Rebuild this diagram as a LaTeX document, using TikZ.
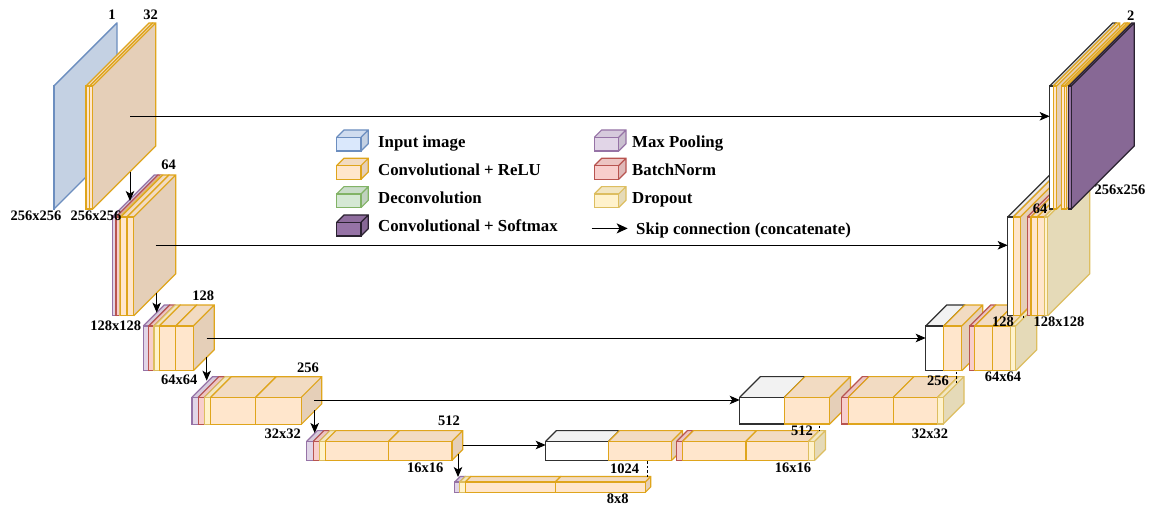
\documentclass[tikz,border=0pt]{standalone}
\usepackage{fontspec}
\setmainfont{Liberation Serif}
\usetikzlibrary{arrows.meta}
\definecolor{inF}{HTML}{DAE8FC}\definecolor{inS}{HTML}{6C8EBF}
\definecolor{cvF}{HTML}{FFE6CC}\definecolor{cvS}{HTML}{DFA51C}
\definecolor{mpF}{HTML}{E1D5E7}\definecolor{mpS}{HTML}{9673A6}
\definecolor{bnF}{HTML}{F8CECC}\definecolor{bnS}{HTML}{B85450}
\definecolor{drF}{HTML}{FFF2CC}\definecolor{drS}{HTML}{DDBE60}
\definecolor{dcF}{HTML}{D5E8D4}\definecolor{dcS}{HTML}{82B366}
\definecolor{smF}{HTML}{9673A6}\definecolor{smS}{HTML}{2A2230}
\definecolor{whF}{HTML}{FFFFFF}\definecolor{whS}{HTML}{303030}
% \layer{name}{x1}{x2}{ytop}{ybottom}{depth}{colour prefix}
\newcommand{\layer}[7]{%
  \pgfmathsetmacro{\lw}{#3-#2}\pgfmathsetmacro{\lh}{#5-#4}%
  \fill[#7F!95!black] (#2,#4) -- ++(#6,-#6) -- ++(\lw,0) -- ++(-#6,#6) -- cycle;
  \fill[#7F!90!black] (#3,#4) -- ++(#6,-#6) -- ++(0,\lh) -- ++(-#6,#6) -- cycle;
  \node[draw=#7S,fill=#7F,facelook,minimum width=\lw pt,minimum height=\lh pt,anchor=north west] (#1) at (#2,#4) {};
  \draw[#7S,edgelook] (#2,#4) -- ++(#6,-#6) -- ++(\lw,0) -- ++(0,\lh) -- ++(-#6,#6) (#3,#4) -- ++(#6,-#6);
}
\tikzset{
  facelook/.style={inner sep=0pt,outer sep=0pt,line width=1.2pt,rectangle},
  edgelook/.style={line width=1.2pt,line join=miter},
  arrowline/.style={-{Stealth[length=10pt,width=8.5pt,inset=2.5pt]},line width=1pt,black},
  legendarrow/.style={-{Stealth[length=11pt,width=10pt,inset=2.8pt]},line width=1.6pt,black},
  dashline/.style={dashed,dash pattern=on 2.5pt off 2pt,line width=1pt,black},
  dimlabel/.style={font=\fontsize{14.5}{16}\selectfont\bfseries,inner sep=0pt,text=black},
  legendlabel/.style={font=\fontsize{16.8}{18}\selectfont\bfseries,inner sep=0pt,text=black,anchor=base west},
}
\begin{document}
\begin{tikzpicture}[x=1pt,y=-1pt]
\useasboundingbox (0,0) rectangle (1154,508);
\fill[white] (0,0) rectangle (1154,508);
% --- encoder
\layer{inp}{53.7}{54}{86}{209}{63}{in}
\layer{e1a}{86}{89.7}{86}{209}{63}{cv}
\layer{e1b}{89.7}{92.7}{86}{209}{63}{cv}

\layer{e2m}{112.3}{116}{217}{315.7}{42}{mp}
\layer{e2n}{116}{119.3}{217}{315.7}{42}{bn}
\layer{e2d}{119.3}{120.7}{217}{315.7}{42}{dr}
\layer{e2a}{120.7}{127}{217}{315.7}{42}{cv}
\layer{e2b}{127}{133.7}{217}{315.7}{42}{cv}

\layer{e3m}{143.3}{148.7}{326}{370.7}{21}{mp}
\layer{e3n}{148.7}{154}{326}{370.7}{21}{bn}
\layer{e3d}{154}{159.3}{326}{370.7}{21}{dr}
\layer{e3a}{159.3}{175.7}{326}{370.7}{21}{cv}
\layer{e3b}{175.7}{193.3}{326}{370.7}{21}{cv}

\layer{e4m}{192}{198.3}{397.3}{424.3}{20.5}{mp}
\layer{e4n}{198.3}{204.3}{397.3}{424.3}{20.5}{bn}
\layer{e4d}{204.3}{210.7}{397.3}{424.3}{20.5}{dr}
\layer{e4a}{210.7}{255.7}{397.3}{424.3}{20.5}{cv}
\layer{e4b}{255.7}{301.3}{397.3}{424.3}{20.5}{cv}

\layer{e5m}{306.7}{313.3}{441.3}{460.3}{10.7}{mp}
\layer{e5n}{313.3}{319.3}{441.3}{460.3}{10.7}{bn}
\layer{e5d}{319.3}{325.3}{441.3}{460.3}{10.7}{dr}
\layer{e5a}{325.3}{388.7}{441.3}{460.3}{10.7}{cv}
\layer{e5b}{388.7}{452}{441.3}{460.3}{10.7}{cv}

\layer{b1m}{454.7}{459.7}{482}{492.3}{5.5}{mp}
\layer{b1d}{459.7}{465.3}{482}{492.3}{5.5}{dr}
\layer{b1a}{465.3}{555.3}{482}{492.3}{5.5}{cv}
\layer{b1b}{555.3}{645.3}{482}{492.3}{5.5}{cv}

% --- decoder
\layer{d5w}{545.7}{608.7}{441.3}{460.3}{10.7}{wh}
\layer{d5a}{608.7}{671.7}{441.3}{460.3}{10.7}{cv}
\layer{d5n}{676.7}{682.7}{441.3}{460.3}{10.7}{bn}
\layer{d5b}{682.7}{746}{441.3}{460.3}{10.7}{cv}
\layer{d5c}{746}{808.7}{441.3}{460.3}{10.7}{cv}
\layer{d5d}{808.7}{814.7}{441.3}{460.3}{10.7}{dr}

\layer{d4w}{739.7}{784.3}{397.3}{424}{20.7}{wh}
\layer{d4a}{784.3}{829.7}{397.3}{424}{20.7}{cv}
\layer{d4n}{841.7}{848.3}{397.3}{424}{20.7}{bn}
\layer{d4b}{848.3}{893.3}{397.3}{424}{20.7}{cv}
\layer{d4c}{893.3}{937.7}{397.3}{424}{20.7}{cv}
\layer{d4d}{937.7}{943.3}{397.3}{424}{20.7}{dr}

\layer{d3w}{925.7}{943.7}{326}{370.7}{21}{wh}
\layer{d3a}{943.7}{961.7}{326}{370.7}{21}{cv}
\layer{d3n}{969.7}{974.7}{326}{370.7}{21}{bn}
\layer{d3b}{974.7}{992.7}{326}{370.7}{21}{cv}
\layer{d3c}{992.7}{1010.7}{326}{370.7}{21}{cv}
\layer{d3d}{1010.7}{1015.7}{326}{370.7}{21}{dr}

\layer{d2w}{1007.7}{1013.3}{217}{315.7}{42}{wh}
\layer{d2a}{1013.3}{1020.3}{217}{315.7}{42}{cv}
\layer{d2n}{1027.3}{1031}{217}{315.7}{42}{bn}
\layer{d2b}{1031}{1037.3}{217}{315.7}{42}{cv}
\layer{d2c}{1037.3}{1044.3}{217}{315.7}{42}{cv}
\layer{d2d}{1044.3}{1047.7}{217}{315.7}{42}{dr}

\layer{d1w}{1049.7}{1053.3}{86}{209}{63}{wh}
\layer{d1a}{1053.3}{1056.7}{86}{209}{63}{cv}
\layer{d1b}{1061.3}{1064.3}{86}{209}{63}{cv}
\layer{d1c}{1064.3}{1066.7}{86}{209}{63}{cv}
\layer{d1s}{1068.7}{1071.3}{86}{209}{63}{sm}

% --- connector ends inside the block faces
\coordinate (s1) at (130,116.3);
\coordinate (s2) at (155.7,245.3);
\coordinate (s3) at (206.7,338);
\coordinate (s4) at (314.3,400);
\coordinate (s5) at (462.7,445);
\coordinate (p1a) at (130,171.7);   \coordinate (p1b) at (130,201);
\coordinate (p2a) at (156.7,292.7); \coordinate (p2b) at (156.7,312.7);
\coordinate (p3a) at (206.7,357);   \coordinate (p3b) at (206.7,380.7);
\coordinate (p4a) at (314.7,410);   \coordinate (p4b) at (314.7,433);
\coordinate (p5a) at (458,454);     \coordinate (p5b) at (458,477);
\coordinate (q1a) at (647.7,461);   \coordinate (q1b) at (647.7,477);
\coordinate (q2a) at (819.5,425.7); \coordinate (q2b) at (819.5,431);
\coordinate (q3a) at (956,371.7);   \coordinate (q3b) at (956,384);
\coordinate (q4a) at (1023,315.5);  \coordinate (q4b) at (1023,318);

\draw[arrowline] (s1) -- (s1 -| d1w.west);
\draw[arrowline] (s2) -- (s2 -| d2w.west);
\draw[arrowline] (s3) -- (s3 -| d3w.west);
\draw[arrowline] (s4) -- (s4 -| d4w.west);
\draw[arrowline] (s5) -- (s5 -| d5w.west);
\draw[arrowline] (p1a) -- (p1b);
\draw[arrowline] (p2a) -- (p2b);
\draw[arrowline] (p3a) -- (p3b);
\draw[arrowline] (p4a) -- (p4b);
\draw[arrowline] (p5a) -- (p5b);
\draw[dashline] (q1a) -- (q1b);
\draw[dashline] (q2a) -- (q2b);
\draw[dashline] (q3a) -- (q3b);
\draw[dashline] (q4a) -- (q4b);

% --- dimension labels
\node[dimlabel] (t01) at (112,15) {1};
\node[dimlabel] (t02) at (150.7,15) {32};
\node[dimlabel] (t03) at (36,216) {256x256};
\node[dimlabel] (t04) at (96,215.7) {256x256};
\node[dimlabel] (t05) at (168.7,165) {64};
\node[dimlabel] (t06) at (115.7,326) {128x128};
\node[dimlabel] (t07) at (203.3,296) {128};
\node[dimlabel] (t08) at (179.3,380) {64x64};
\node[dimlabel] (t09) at (308,368) {256};
\node[dimlabel] (t10) at (282.7,434) {32x32};
\node[dimlabel] (t11) at (449,421) {512};
\node[dimlabel] (t12) at (425.3,468) {16x16};
\node[dimlabel] (t13) at (624.7,469) {1024};
\node[dimlabel] (t14) at (617.7,499) {8x8};
\node[dimlabel] (t15) at (802,431) {512};
\node[dimlabel] (t16) at (793,467.7) {16x16};
\node[dimlabel] (t17) at (938,381) {256};
\node[dimlabel] (t18) at (930,434) {32x32};
\node[dimlabel] (t19) at (1003,321.7) {128};
\node[dimlabel] (t20) at (1003,377) {64x64};
\node[dimlabel] (t21) at (1059,321.7) {128x128};
\node[dimlabel] (t22) at (1040,209) {64};
\node[dimlabel] (t23) at (1120,190) {256x256};
\node[dimlabel] (t24) at (1130.7,16) {2};

% --- legend
\layer{k1}{336.7}{361}{137.3}{151}{7.3}{in}
\layer{k2}{336.7}{361}{165.6}{179.3}{7.3}{cv}
\layer{k3}{336.7}{361}{193.9}{207.6}{7.3}{dc}
\layer{k4}{336.7}{361}{222.2}{235.9}{7.3}{sm}
\layer{k5}{594.3}{618.7}{137.3}{151}{7.3}{mp}
\layer{k6}{594.3}{618.7}{165.6}{179.3}{7.3}{bn}
\layer{k7}{594.3}{618.7}{193.9}{207.6}{7.3}{dr}
\node[legendlabel] (l1) at (378,147.5) {Input image};
\node[legendlabel] (l2) at (378,175.5) {Convolutional + ReLU};
\node[legendlabel] (l3) at (378,203.3) {Deconvolution};
\node[legendlabel] (l4) at (378,231.3) {Convolutional + Softmax};
\node[legendlabel] (l5) at (632,147.5) {Max Pooling};
\node[legendlabel] (l6) at (632,175.5) {BatchNorm};
\node[legendlabel] (l7) at (632,203.3) {Dropout};
\node[legendlabel] (l8) at (636,234.3) {Skip connection (concatenate)};
\coordinate (l8tail) at (591.7,228.4);
\coordinate (l8head) at (627.7,228.4);
\draw[legendarrow] (l8tail) -- (l8head);
\end{tikzpicture}
\end{document}
